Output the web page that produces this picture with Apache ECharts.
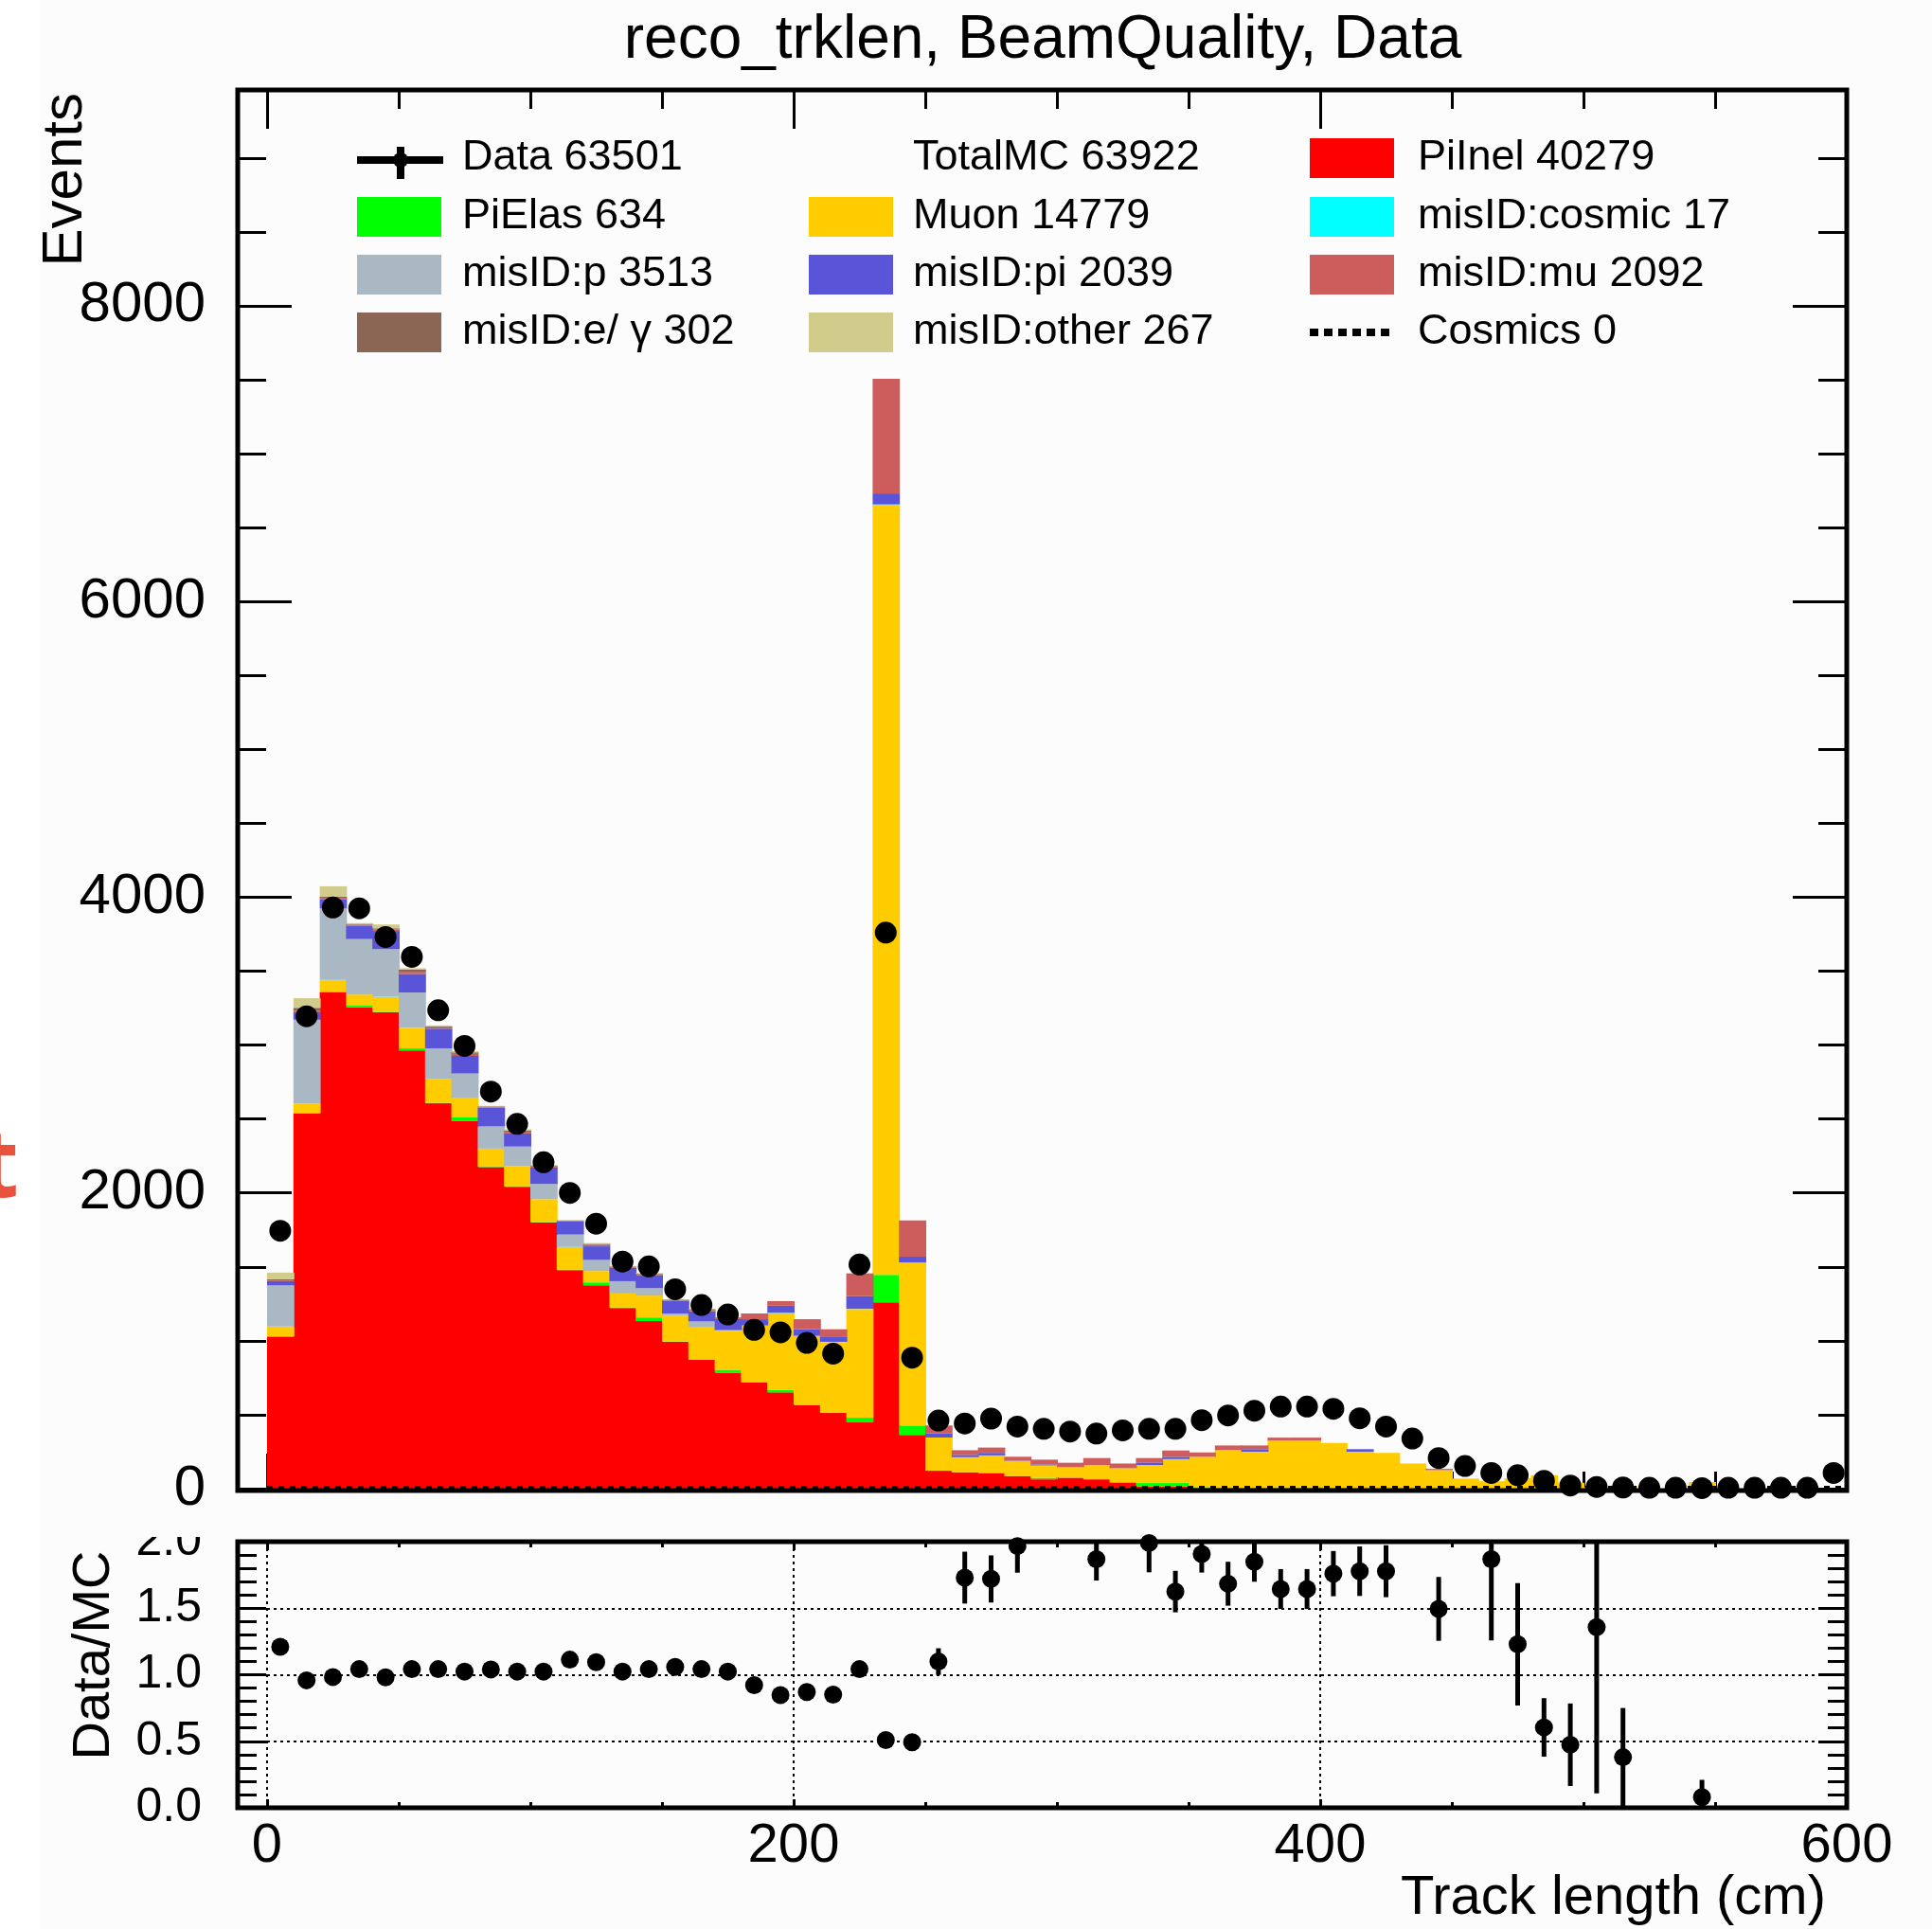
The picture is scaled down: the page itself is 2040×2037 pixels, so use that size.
<!DOCTYPE html>
<html>
<head>
<meta charset="utf-8">
<title>reco_trklen, BeamQuality, Data</title>
<script src="https://cdn.jsdelivr.net/npm/echarts@6/dist/echarts.min.js"></script>
<style>
  html, body { margin: 0; padding: 0; background: #fcfcfc; }
  #chart { width: 2040px; height: 2037px; }
</style>
</head>
<body>
<div id="chart"></div>
<script>
// ---- Binning: 10 cm bins from 0 to 600 cm (bin centres) ----
const binCenters = [
  5, 15, 25, 35, 45, 55, 65, 75, 85, 95,
  105, 115, 125, 135, 145, 155, 165, 175, 185, 195,
  205, 215, 225, 235, 245, 255, 265, 275, 285, 295,
  305, 315, 325, 335, 345, 355, 365, 375, 385, 395,
  405, 415, 425, 435, 445, 455, 465, 475, 485, 495,
  505, 515, 525, 535, 545, 555, 565, 575, 585, 595
];
const binWidth = 10;

// ---- MC components (events per bin), stacked bottom to top ----
const piInel = [
  1028, 2539, 3356, 3256, 3222, 2964, 2606, 2486, 2175, 2042,
  1800, 1478, 1375, 1222, 1133, 993, 871, 785, 719, 651,
  566, 512, 448, 1260, 363, 121, 111, 106, 85, 63,
  74, 63, 40, 15, 15, 5, 3, 3, 3, 3,
  3, 2, 2, 0, 0, 0, 0, 0, 0, 0,
  0, 0, 0, 0, 0, 0, 0, 0, 0, 0
];
const piElas = [
  3, 0, 5, 14, 3, 14, 3, 28, 3, 3,
  3, 3, 20, 3, 25, 2, 2, 19, 2, 17,
  2, 2, 32, 186, 64, 0, 0, 0, 0, 10,
  0, 0, 5, 23, 23, 5, 3, 3, 5, 5,
  3, 2, 0, 0, 0, 0, 0, 0, 0, 0,
  0, 0, 0, 0, 0, 0, 0, 0, 0, 0
];
const muon = [
  66, 67, 78, 72, 100, 139, 163, 125, 122, 136,
  155, 152, 77, 95, 148, 173, 222, 263, 383, 517,
  463, 476, 734, 5207, 1103, 225, 102, 118, 102, 84,
  71, 97, 93, 122, 160, 205, 254, 244, 318, 318,
  303, 246, 239, 170, 125, 68, 50, 70, 90, 40,
  9, 20, 0, 0, 45, 0, 0, 0, 0, 0
];
const misCosmic = [
  0, 0, 2, 0, 2, 0, 0, 2, 0, 0,
  0, 2, 0, 0, 0, 0, 0, 0, 0, 2,
  0, 0, 0, 4, 0, 0, 0, 1, 0, 0,
  0, 0, 0, 0, 2, 0, 0, 0, 0, 0,
  0, 0, 0, 0, 0, 0, 0, 0, 0, 0,
  0, 0, 0, 0, 0, 0, 0, 0, 0, 0
];
const misP = [
  278, 566, 483, 375, 322, 239, 206, 167, 150, 133,
  103, 84, 75, 83, 50, 17, 36, 5, 0, 3,
  3, 3, 3, 0, 0, 0, 0, 0, 0, 0,
  0, 0, 0, 0, 0, 0, 0, 0, 0, 0,
  0, 0, 0, 0, 0, 0, 0, 0, 0, 0,
  0, 0, 0, 0, 0, 0, 0, 0, 0, 0
];
const misPi = [
  28, 50, 64, 89, 123, 125, 133, 119, 128, 89,
  111, 89, 92, 91, 88, 85, 69, 75, 42, 47,
  44, 32, 85, 74, 39, 27, 15, 17, 2, 7,
  0, 0, 0, 17, 15, 0, 0, 17, 0, 0,
  0, 17, 0, 0, 0, 0, 0, 0, 0, 0,
  0, 0, 0, 0, 0, 0, 0, 0, 0, 0
];
const misMu = [
  5, 10, 8, 8, 10, 15, 8, 14, 5, 12,
  8, 4, 10, 6, 6, 6, 10, 8, 39, 31,
  68, 53, 154, 775, 245, 54, 32, 36, 27, 32,
  30, 47, 32, 30, 43, 30, 32, 25, 19, 19,
  0, 0, 0, 0, 9, 0, 0, 0, 0, 0,
  0, 0, 0, 0, 0, 0, 0, 0, 0, 0
];
const misEG = [
  8, 20, 8, 6, 8, 15, 6, 10, 3, 8,
  5, 2, 7, 3, 4, 3, 4, 4, 0, 0,
  0, 0, 0, 0, 0, 0, 0, 0, 0, 0,
  0, 0, 0, 0, 0, 0, 0, 0, 0, 0,
  0, 0, 0, 0, 0, 0, 0, 0, 0, 0,
  0, 0, 0, 0, 0, 0, 0, 0, 0, 0
];
const misOther = [
  45, 65, 70, 5, 26, 9, 8, 8, 3, 8,
  4, 2, 5, 3, 4, 2, 3, 0, 0, 0,
  0, 0, 0, 0, 0, 0, 0, 0, 0, 0,
  0, 0, 0, 0, 0, 0, 0, 0, 0, 0,
  0, 0, 0, 0, 0, 0, 0, 0, 0, 0,
  0, 0, 0, 0, 0, 0, 0, 0, 0, 0
];
// Cosmics template (empty for this selection)
const cosmics = [
  0, 0, 0, 0, 0, 0, 0, 0, 0, 0,
  0, 0, 0, 0, 0, 0, 0, 0, 0, 0,
  0, 0, 0, 0, 0, 0, 0, 0, 0, 0,
  0, 0, 0, 0, 0, 0, 0, 0, 0, 0,
  0, 0, 0, 0, 0, 0, 0, 0, 0, 0,
  0, 0, 0, 0, 0, 0, 0, 0, 0, 0
];

// ---- Data (events per bin) ----
const dataCounts = [
  1744, 3195, 3931, 3925, 3731, 3597, 3236, 2995, 2686, 2467,
  2208, 2000, 1792, 1536, 1503, 1349, 1242, 1178, 1074, 1057,
  986, 913, 1516, 3761, 886, 461, 441, 474, 420, 405,
  386, 373, 394, 405, 405, 463, 495, 527, 555, 555,
  540, 476, 420, 339, 207, 153, 106, 91, 53, 21,
  12, 8, 6, 6, 4, 6, 6, 6, 6, 106
];

// ---- Data/MC ratio and its uncertainty (null = outside 0..2 or undefined) ----
const ratio = [
  1.21, 0.958, 0.983, 1.042, 0.981, 1.042, 1.042, 1.024, 1.04, 1.024,
  1.024, 1.113, 1.094, 1.024, 1.042, 1.059, 1.042, 1.024, 0.922, 0.847,
  0.870, 0.851, 1.042, 0.509, 0.493, 1.099, 1.73, 1.72, 1.967, null,
  null, 1.868, null, 1.99, 1.625, 1.908, 1.684, 1.849, 1.644, 1.644,
  1.76, 1.778, 1.778, null, 1.495, null, 1.868, 1.229, 0.604, 0.474,
  1.358, 0.38, null, null, 0.08, null, null, null, null, null
];
const ratioErr = [
  0.04, 0.025, 0.022, 0.023, 0.024, 0.025, 0.026, 0.028, 0.03, 0.031,
  0.033, 0.037, 0.04, 0.041, 0.042, 0.045, 0.046, 0.047, 0.045, 0.043,
  0.046, 0.048, 0.04, 0.012, 0.025, 0.1, 0.195, 0.177, 0.2, 0,
  0, 0.16, 0, 0.22, 0.156, 0.14, 0.165, 0.15, 0.15, 0.15,
  0.17, 0.186, 0.195, 0, 0.24, 0, 0.61, 0.46, 0.22, 0.31,
  1.25, 0.37, 0, 0, 0.13, 0, 0, 0, 0, 0
];

// ---- Axis ticks ----
const xTickLabels = [0, 200, 400, 600];
const yTickLabels = [0, 2000, 4000, 6000, 8000];
const ratioTickLabels = ['0.0', '0.5', '1.0', '1.5', '2.0'];

// ---- Legend text ----
const legendText = [
  ['Data 63501', 'TotalMC 63922', 'PiInel 40279'],
  ['PiElas 634', 'Muon 14779', 'misID:cosmic 17'],
  ['misID:p 3513', 'misID:pi 2039', 'misID:mu 2092'],
  ['misID:e/ \u03b3 302', 'misID:other 267', 'Cosmics 0']
];
const titleText = 'reco_trklen, BeamQuality, Data';

// ---- Styling ----
const colors = {
  piInel: '#ff0000', piElas: '#00ff00', muon: '#ffcc00', cosmic: '#00ffff',
  misP: '#aab8c4', misPi: '#5a55d8', misMu: '#cd5c5c', misEG: '#8b6654', misOther: '#d2cc8c'
};
const FONT = '"Liberation Sans", Arial, Helvetica, sans-serif';
const BG = '#fcfcfc';

const stackOrder = [
  { values: piInel, color: colors.piInel },
  { values: piElas, color: colors.piElas },
  { values: muon, color: colors.muon },
  { values: misCosmic, color: colors.cosmic },
  { values: misP, color: colors.misP },
  { values: misPi, color: colors.misPi },
  { values: misMu, color: colors.misMu },
  { values: misEG, color: colors.misEG },
  { values: misOther, color: colors.misOther }
];
// legend symbol per cell: 'data', null, colour string, or 'dotted'
const legendSymbols = [
  ['data', null, colors.piInel],
  [colors.piElas, colors.muon, colors.cosmic],
  [colors.misP, colors.misPi, colors.misMu],
  [colors.misEG, colors.misOther, 'dotted']
];

// ---- Layout (pixels) ----
// data grids start at x = 0; frame grids start at the pad frame on the left
const MAIN = { left: 282, top: 95, width: 1668, height: 1477 };
const RATIO = { left: 282, top: 1628, width: 1668, height: 281 };
const FRAME_LEFT = 251;
const MAIN_FRAME = { left: FRAME_LEFT, top: MAIN.top, width: MAIN.left + MAIN.width - FRAME_LEFT, height: MAIN.height };
const RATIO_FRAME = { left: FRAME_LEFT, top: RATIO.top, width: RATIO.left + RATIO.width - FRAME_LEFT, height: RATIO.height };
const Y_MAX = 9460;

function makeBarRenderer(color) {
  return function (params, api) {
    const lo = api.value(0), hi = api.value(1), b = api.value(2), t = api.value(3);
    if (!(t > b)) return null;
    const p0 = api.coord([lo, t]);
    const p1 = api.coord([hi, b]);
    return {
      type: 'rect',
      shape: { x: p0[0], y: p0[1], width: p1[0] - p0[0] + 1, height: p1[1] - p0[1] },
      style: { fill: color }
    };
  };
}
function makeErrRenderer(width) {
  return function (params, api) {
    const x = api.value(0), lo = api.value(1), hi = api.value(2);
    const a = api.coord([x, lo]);
    const b = api.coord([x, hi]);
    return {
      type: 'line',
      shape: { x1: a[0], y1: a[1], x2: b[0], y2: b[1] },
      style: { stroke: '#000', lineWidth: width }
    };
  };
}

const series = [];
const cumulative = binCenters.map(() => 0);
stackOrder.forEach((comp) => {
  const items = binCenters.map((c, i) => {
    const b = cumulative[i];
    const t = b + comp.values[i];
    cumulative[i] = t;
    return [c - binWidth / 2, c + binWidth / 2, b, t];
  });
  series.push({
    type: 'custom', xAxisIndex: 0, yAxisIndex: 0, silent: true, z: 2,
    renderItem: makeBarRenderer(comp.color),
    encode: { x: [0, 1], y: [2, 3] },
    data: items
  });
});

// Cosmics histogram: dotted step line
const cosmicsSteps = [];
binCenters.forEach((c, i) => {
  cosmicsSteps.push([c - binWidth / 2, cosmics[i]]);
  cosmicsSteps.push([c + binWidth / 2, cosmics[i]]);
});
series.push({
  type: 'line', xAxisIndex: 0, yAxisIndex: 0, data: cosmicsSteps, symbol: 'none',
  clip: false, silent: true, z: 3,
  lineStyle: { color: '#000', width: 6, type: [6, 6] }
});

// Data: Poisson error bars + markers
series.push({
  type: 'custom', xAxisIndex: 0, yAxisIndex: 0, silent: true, z: 4,
  renderItem: makeErrRenderer(4),
  encode: { x: 0, y: [1, 2] },
  data: binCenters.map((c, i) => {
    const e = Math.sqrt(dataCounts[i]);
    return [c, dataCounts[i] - e, dataCounts[i] + e];
  })
});
series.push({
  type: 'scatter', xAxisIndex: 0, yAxisIndex: 0, silent: true, z: 5,
  symbol: 'circle', symbolSize: 23, itemStyle: { color: '#000', opacity: 1 },
  data: binCenters.map((c, i) => [c, dataCounts[i]])
});

// Ratio panel
const ratioPts = [];
const ratioBars = [];
binCenters.forEach((c, i) => {
  if (ratio[i] === null) return;
  ratioPts.push([c, ratio[i]]);
  ratioBars.push([c, ratio[i] - ratioErr[i], ratio[i] + ratioErr[i]]);
});
series.push({
  type: 'custom', xAxisIndex: 2, yAxisIndex: 5, silent: true, z: 4, clip: true,
  renderItem: makeErrRenderer(5),
  encode: { x: 0, y: [1, 2] },
  data: ratioBars
});
series.push({
  type: 'scatter', xAxisIndex: 2, yAxisIndex: 5, silent: true, z: 5, clip: true,
  symbol: 'circle', symbolSize: 19, itemStyle: { color: '#000', opacity: 1 },
  data: ratioPts
});

// ---- Axes ----
const tickStyle = { color: '#000', width: 3 };
const dottedGrid = { show: true, lineStyle: { color: '#000', width: 2, type: [3, 4] } };
function xAxisCfg(gridIndex, position, len, minorLen, withLabels) {
  return {
    type: 'value', gridIndex, position, min: 0, max: 600, interval: 200,
    axisLine: { show: false },
    axisTick: { show: true, inside: true, length: len, lineStyle: tickStyle },
    minorTick: { show: true, splitNumber: 4, length: minorLen, lineStyle: tickStyle },
    axisLabel: withLabels ? {
      show: true, margin: 12, color: '#000', fontSize: 58, fontFamily: FONT,
      formatter: (v) => (xTickLabels.indexOf(v) >= 0 ? String(v) : '')
    } : { show: false },
    splitLine: { show: false }
  };
}
function hiddenX(gridIndex) {
  return { type: 'value', gridIndex, min: 0, max: 1, show: false };
}
// value axis used by the series (no decorations of its own)
function plainY(gridIndex, max, split) {
  return {
    type: 'value', gridIndex, min: 0, max, interval: max === 2 ? 0.5 : 2000,
    axisLine: { show: false }, axisTick: { show: false }, axisLabel: { show: false },
    minorTick: { show: false },
    splitLine: split ? dottedGrid : { show: false }
  };
}
// tick axes sitting on the pad frame
function yMainCfg(position, interval, len, withLabels) {
  return {
    type: 'value', gridIndex: 2, position,
    min: 0, max: Y_MAX, interval,
    axisLine: { show: false },
    axisTick: { show: true, inside: true, length: len, lineStyle: tickStyle },
    minorTick: { show: false },
    axisLabel: withLabels ? {
      show: true, margin: 34, color: '#000', fontSize: 60, fontFamily: FONT,
      showMaxLabel: false,
      formatter: (v) => (yTickLabels.indexOf(v) >= 0 ? String(v) : '')
    } : { show: false },
    splitLine: { show: false }
  };
}
function yRatioCfg(position, withLabels) {
  return {
    type: 'value', gridIndex: 3, position,
    min: 0, max: 2, interval: 0.5,
    axisLine: { show: false },
    axisTick: { show: true, inside: true, length: 30, lineStyle: tickStyle },
    minorTick: { show: true, splitNumber: 5, length: 20, lineStyle: tickStyle },
    axisLabel: withLabels ? {
      show: true, margin: 38, color: '#000', fontSize: 50, fontFamily: FONT,
      formatter: (v) => ratioTickLabels[Math.round(v * 2)] || ''
    } : { show: false },
    splitLine: { show: false }
  };
}

const xRatioBottom = xAxisCfg(1, 'bottom', 9, 6, true);
xRatioBottom.splitLine = dottedGrid;

// ---- Graphic overlay: frames, titles, legend ----
const graphics = [];
// light strip on the far left
graphics.push({ type: 'rect', z: -10, silent: true, shape: { x: 0, y: 0, width: 42, height: 2037 }, style: { fill: '#ffffff' } });
graphics.push({
  type: 'text', z: 10, x: 20, y: 1236, silent: true,
  style: { text: 't', font: 'bold 100px "Open Sans", "Liberation Sans", sans-serif', fill: '#e9533e',
           align: 'right', textAlign: 'right', verticalAlign: 'middle', textVerticalAlign: 'middle' }
});
// frames
function frame(x0, y0, x1, y1) {
  return {
    type: 'rect', z: 100, silent: true,
    shape: { x: x0, y: y0, width: x1 - x0, height: y1 - y0 },
    style: { fill: null, stroke: '#000', lineWidth: 5 }
  };
}
graphics.push(frame(FRAME_LEFT, MAIN.top, MAIN.left + MAIN.width, MAIN.top + MAIN.height + 2));
graphics.push(frame(FRAME_LEFT, RATIO.top, RATIO.left + RATIO.width, RATIO.top + RATIO.height));
// upper part of the top ratio label is hidden by the pad above
graphics.push({ type: 'rect', z: 90, silent: true, shape: { x: 120, y: 1600, width: 126, height: 23 }, style: { fill: BG } });

function textEl(str, x, y, size, opts) {
  const o = opts || {};
  return {
    type: 'text', z: 110, silent: true, x, y, rotation: o.rotation || 0,
    style: {
      text: str, font: size + 'px ' + FONT, fill: '#000',
      align: o.align || 'left', textAlign: o.align || 'left',
      verticalAlign: 'middle', textVerticalAlign: 'middle'
    }
  };
}
graphics.push(textEl(titleText, 1101, 43, 64, { align: 'center' }));
graphics.push(textEl('Events', 69, 98, 60, { align: 'right', rotation: Math.PI / 2 }));
graphics.push(textEl('Data/MC', 100, 1748, 56, { align: 'center', rotation: Math.PI / 2 }));
graphics.push(textEl('Track length (cm)', 1928, 2005, 58, { align: 'right' }));

// legend
const legSymX = [377, 854, 1383];
const legTextX = [488, 964, 1497];
const legRowY = [167, 229, 290, 351];
legendText.forEach((row, r) => {
  row.forEach((label, c) => {
    const sym = legendSymbols[r][c];
    const x = legSymX[c], y = legRowY[r];
    if (sym === 'data') {
      graphics.push({ type: 'line', z: 110, shape: { x1: x, y1: y + 2, x2: x + 91, y2: y + 2 }, style: { stroke: '#000', lineWidth: 8 } });
      graphics.push({ type: 'line', z: 110, shape: { x1: x + 46, y1: y - 12, x2: x + 46, y2: y + 22 }, style: { stroke: '#000', lineWidth: 8 } });
      graphics.push({ type: 'circle', z: 111, shape: { cx: x + 46, cy: y + 2, r: 8 }, style: { fill: '#000' } });
    } else if (sym === 'dotted') {
      graphics.push({ type: 'line', z: 110, shape: { x1: x, y1: y, x2: x + 89, y2: y }, style: { stroke: '#000', lineWidth: 8, lineDash: [9, 6] } });
    } else if (sym) {
      graphics.push({ type: 'rect', z: 110, shape: { x: x, y: y - 21, width: 89, height: 42 }, style: { fill: sym } });
    }
    graphics.push(textEl(label, legTextX[c], y, 45));
  });
});

const chart = echarts.init(document.getElementById('chart'), null, { renderer: 'canvas', width: 2040, height: 2037 });
const gridBase = { containLabel: false, outerBoundsMode: 'none' };
chart.setOption({
  animation: false,
  backgroundColor: BG,
  grid: [
    Object.assign({}, gridBase, MAIN),
    Object.assign({}, gridBase, RATIO),
    Object.assign({}, gridBase, MAIN_FRAME),
    Object.assign({}, gridBase, RATIO_FRAME)
  ],
  xAxis: [
    xAxisCfg(0, 'bottom', 37, 18, false),
    xAxisCfg(0, 'top', 41, 20, false),
    xRatioBottom,
    xAxisCfg(1, 'top', 9, 6, false),
    hiddenX(2),
    hiddenX(3)
  ],
  yAxis: [
    plainY(0, Y_MAX, false),              // 0: main values
    yMainCfg('left', 2000, 57, true),     // 1
    yMainCfg('left', 500, 30, false),     // 2
    yMainCfg('right', 2000, 57, false),   // 3
    yMainCfg('right', 500, 30, false),    // 4
    plainY(1, 2, true),                   // 5: ratio values + dotted grid
    yRatioCfg('left', true),              // 6
    yRatioCfg('right', false)             // 7
  ],
  series: series,
  graphic: { elements: graphics }
});
</script>
</body>
</html>
